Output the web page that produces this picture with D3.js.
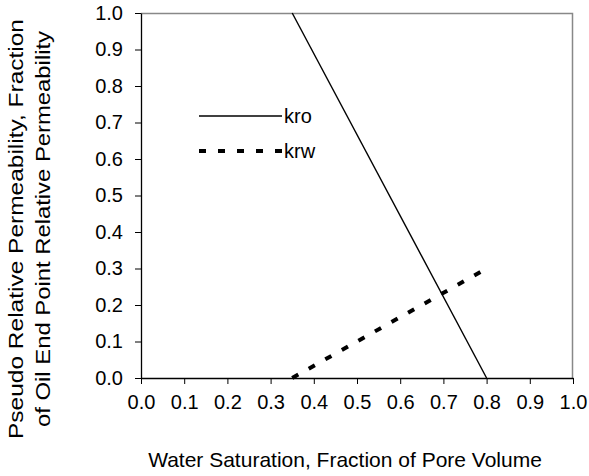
<!DOCTYPE html>
<html>
<head>
<meta charset="utf-8">
<script src="https://cdn.jsdelivr.net/npm/d3@7/dist/d3.min.js"></script>
<style>
  body { margin: 0; background: #fff; }
  text { font-family: "Liberation Sans", Arial, sans-serif; fill: #000; }
</style>
</head>
<body>
<div id="chart"></div>
<script>
// data
var xTicks = [0.0, 0.1, 0.2, 0.3, 0.4, 0.5, 0.6, 0.7, 0.8, 0.9, 1.0];
var yTicks = [0.0, 0.1, 0.2, 0.3, 0.4, 0.5, 0.6, 0.7, 0.8, 0.9, 1.0];
var swKro = [0.35, 0.8];
var kro = [1.0, 0.0];
var swKrw = [0.35, 0.8];
var krw = [0.0, 0.3];
var seriesNames = ["kro", "krw"];

var width = 589, height = 476;
var margin = { top: 13, right: 16, bottom: 98, left: 141 };
var w = width - margin.left - margin.right;
var h = height - margin.top - margin.bottom;

var svg = d3.select("#chart")
    .append("svg")
    .attr("width", width)
    .attr("height", height);

var g = svg.append("g")
    .attr("transform", "translate(" + margin.left + "," + margin.top + ")");

var x = d3.scaleLinear().domain([0, 1]).range([0, w]);
var y = d3.scaleLinear().domain([0, 1]).range([h, 0]);

// gray frame on top and right
g.append("path")
    .attr("d", "M0,0.5H" + (w - 0.5) + "V" + h)
    .attr("fill", "none")
    .attr("stroke", "#888")
    .attr("stroke-width", 1.5);

var xAxis = g.append("g")
    .attr("transform", "translate(0," + h + ")")
    .call(d3.axisBottom(x).tickValues(xTicks).tickFormat(d3.format(".1f")).tickSize(6).tickSizeOuter(0).tickPadding(11));

var yAxis = g.append("g")
    .call(d3.axisLeft(y).tickValues(yTicks).tickFormat(d3.format(".1f")).tickSize(6).tickSizeOuter(0).tickPadding(12));

[xAxis, yAxis].forEach(function (a) {
    a.select(".domain").attr("stroke", "#000").attr("stroke-width", 1.3);
    a.selectAll(".tick line").attr("stroke", "#000");
    a.selectAll("text")
        .attr("font-family", "Liberation Sans, Arial, sans-serif")
        .attr("font-size", 20)
        .attr("fill", "#000");
});

var line = d3.line()
    .x(function (d) { return x(d[0]); })
    .y(function (d) { return y(d[1]); });

g.append("path")
    .datum(d3.zip(swKro, kro))
    .attr("d", line)
    .attr("fill", "none")
    .attr("stroke", "#000")
    .attr("stroke-width", 1.4);

g.append("path")
    .datum(d3.zip(swKrw, krw))
    .attr("d", line)
    .attr("fill", "none")
    .attr("stroke", "#000")
    .attr("stroke-width", 4)
    .attr("stroke-dasharray", "7,12");

// legend
var legend = svg.append("g").attr("transform", "translate(199,116)");
var styles = [
    { width: 1.4, dash: null },
    { width: 4, dash: "7,12" }
];
seriesNames.forEach(function (name, i) {
    var row = legend.append("g").attr("transform", "translate(0," + (i * 35) + ")");
    row.append("line")
        .attr("x1", 0).attr("x2", 83)
        .attr("stroke", "#000")
        .attr("stroke-width", styles[i].width)
        .attr("stroke-dasharray", styles[i].dash);
    row.append("text")
        .attr("x", 85)
        .attr("dy", "0.35em")
        .attr("font-size", 20)
        .text(name);
});

// axis titles
svg.append("text")
    .attr("x", 345)
    .attr("y", 467)
    .attr("text-anchor", "middle")
    .attr("font-size", 21)
    .text("Water Saturation, Fraction of Pore Volume");

var yTitle = svg.append("text")
    .attr("transform", "translate(0,229) rotate(-90)")
    .attr("text-anchor", "middle")
    .attr("font-size", 20);
yTitle.append("tspan").attr("x", 0).attr("y", 23)
    .attr("textLength", 420).attr("lengthAdjust", "spacingAndGlyphs")
    .text("Pseudo Relative Permeability, Fraction");
yTitle.append("tspan").attr("x", 0).attr("y", 50)
    .attr("textLength", 396).attr("lengthAdjust", "spacingAndGlyphs")
    .text("of Oil End Point Relative Permeability");
</script>
</body>
</html>
